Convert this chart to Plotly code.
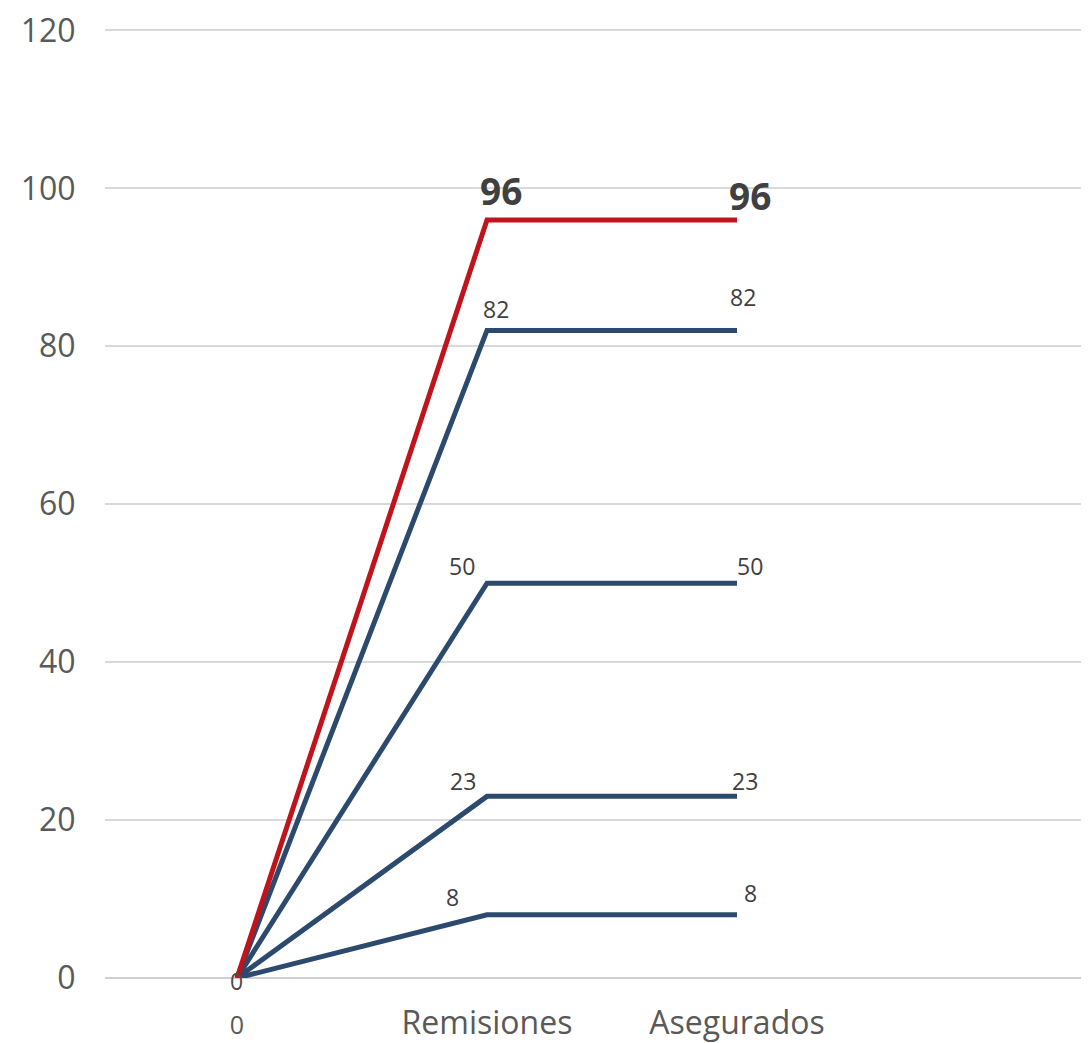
import plotly.graph_objects as go

# Data
categories = ["0", "Remisiones", "Asegurados"]
x_pos = [0, 1, 2]
blue_series = {
    "Serie 82": [0, 82, 82],
    "Serie 50": [0, 50, 50],
    "Serie 23": [0, 23, 23],
    "Serie 8": [0, 8, 8],
}
red_series = [0, 96, 96]
y_ticks = [0, 20, 40, 60, 80, 100, 120]

BLUE = "#2c4a6e"
RED = "#c0141c"
LABEL = "#404040"
TICK = "#595959"
FONT = "Open Sans"

fig = go.Figure()
for name, vals in blue_series.items():
    fig.add_trace(go.Scatter(x=x_pos, y=vals, mode="lines", name=name,
                             line=dict(color=BLUE, width=5), showlegend=False,
                             hoverinfo="skip"))
fig.add_trace(go.Scatter(x=x_pos, y=red_series, mode="lines", name="Total",
                         line=dict(color=RED, width=5), showlegend=False,
                         hoverinfo="skip"))

# label offsets (style only): (xshift, yshift) per series for Remisiones / Asegurados
blue_offsets = {
    "Serie 82": [(9, 21), (6, 33)],
    "Serie 50": [(-25, 17), (13, 17)],
    "Serie 23": [(-24, 15), (8, 15)],
    "Serie 8": [(-35, 18), (13, 22)],
}
annotations = []
for name, vals in blue_series.items():
    for i in (1, 2):
        dx, dy = blue_offsets[name][i - 1]
        annotations.append(dict(x=x_pos[i], y=vals[i], text=str(vals[i]),
                                xref="x", yref="y", showarrow=False,
                                xshift=dx, yshift=dy,
                                font=dict(family=FONT, size=23, color=LABEL)))
red_offsets = [(14, 29), (13, 24)]
for i in (1, 2):
    dx, dy = red_offsets[i - 1]
    annotations.append(dict(x=x_pos[i], y=red_series[i], text="<b>%d</b>" % red_series[i],
                            xref="x", yref="y", showarrow=False,
                            xshift=dx, yshift=dy,
                            font=dict(family=FONT, size=37, color=LABEL)))
# origin label (overlapping zero labels)
annotations.append(dict(x=x_pos[0], y=red_series[0], text=str(red_series[0]),
                        xref="x", yref="y", showarrow=False, xshift=-1, yshift=-3,
                        font=dict(family=FONT, size=23, color="#5a4640")))

ticktext = ["<span style='font-size:25px'>0</span>"] + categories[1:]

fig.update_layout(
    width=1081, height=1035,
    margin=dict(l=97, r=0, t=20, b=65),
    paper_bgcolor="white", plot_bgcolor="white",
    font=dict(family=FONT, color=TICK),
    annotations=annotations,
    xaxis=dict(range=[-0.528, 3.408], tickmode="array", tickvals=x_pos,
               ticktext=ticktext, showgrid=False, zeroline=False,
               showline=False, ticks="outside", ticklen=17,
               tickcolor="rgba(0,0,0,0)", automargin=False,
               ticklabeloverflow="allow",
               tickfont=dict(family=FONT, size=32, color=TICK)),
    yaxis=dict(range=[0, 120.3], tickmode="array", tickvals=y_ticks,
               showgrid=True, gridcolor="#d9d9d9", gridwidth=1.5,
               zeroline=True, zerolinecolor="#d0d0d0", zerolinewidth=1.5,
               ticks="outside", ticklen=22, tickcolor="rgba(0,0,0,0)",
               automargin=False, ticklabeloverflow="allow",
               tickfont=dict(family=FONT, size=32, color=TICK)),
)

fig.write_html("out.html")
